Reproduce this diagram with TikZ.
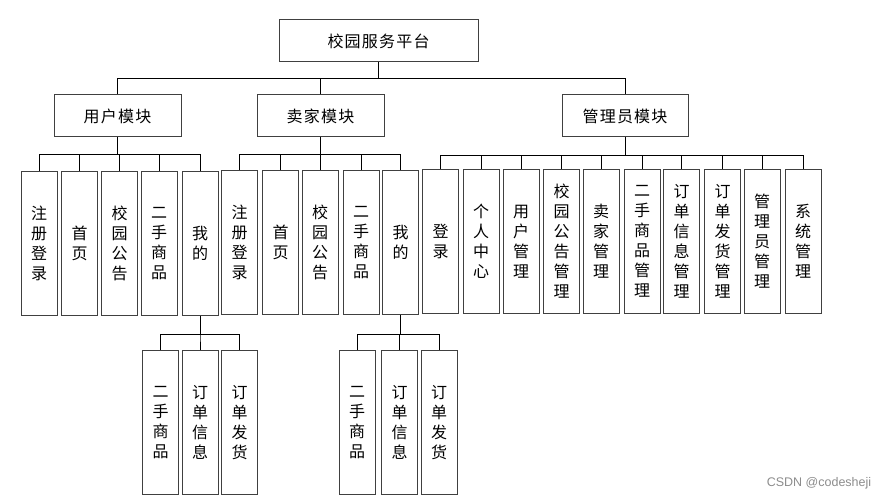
\documentclass[tikz,border=0pt]{standalone}
\usepackage{fontspec}
\newfontfamily\cjk{Noto Sans CJK SC}
\newfontfamily\wmfont{Liberation Sans}
\newcommand\cjkgap{\kern1.2pt}
\begin{document}
\begin{tikzpicture}[x=1pt,y=-1pt,
  hbox/.style={draw=black!75,line width=1pt,minimum width=127pt,minimum height=42pt,inner sep=0pt,font=\cjk\fontsize{16}{20}\selectfont},
  vbox/.style={draw=black!75,line width=1pt,minimum width=36pt,minimum height=144pt,inner sep=0pt,anchor=north,align=center,font=\cjk\fontsize{16}{20}\selectfont},
  conn/.style={draw=black,line width=0.8pt}]
\useasboundingbox (0,0) rectangle (892,500);
% level 0 and 1
\node[hbox,minimum width=199pt] (root) at (378.5,41) {校\cjkgap 园\cjkgap 服\cjkgap 务\cjkgap 平\cjkgap 台};
\node[hbox] (u) at (117.5,116) {用\cjkgap 户\cjkgap 模\cjkgap 块};
\node[hbox] (s) at (320.5,116) {卖\cjkgap 家\cjkgap 模\cjkgap 块};
\node[hbox,minimum width=126pt] (a) at (625,116) {管\cjkgap 理\cjkgap 员\cjkgap 模\cjkgap 块};
\draw[conn] (root.south) -- ++(0,17);
\draw[conn] (u.north) -- ++(0,-16) -| (a.north);
\draw[conn] (s.north) -- ++(0,-16);
% user children
\node[vbox] (u1) at (39,171) {注\\册\\登\\录};
\node[vbox] (u2) at (79.5,171) {首\\页};
\node[vbox] (u3) at (119.5,171) {校\\园\\公\\告};
\node[vbox] (u4) at (159,171) {二\\手\\商\\品};
\node[vbox] (u5) at (200,171) {我\\的};
\foreach \c in {u1,u2,u3,u4,u5} \draw[conn] (u.south) -- ++(0,17) -| (\c.north);
% seller children
\node[vbox] (s1) at (239.5,170) {注\\册\\登\\录};
\node[vbox] (s2) at (280.5,170) {首\\页};
\node[vbox] (s3) at (320,170) {校\\园\\公\\告};
\node[vbox] (s4) at (361,170) {二\\手\\商\\品};
\node[vbox] (s5) at (400.5,170) {我\\的};
\foreach \c in {s1,s2,s3,s4,s5} \draw[conn] (s.south) -- ++(0,17) -| (\c.north);
% admin children
\node[vbox] (a1) at (440.5,169) {登\\录};
\node[vbox] (a2) at (481,169) {个\\人\\中\\心};
\node[vbox] (a3) at (521,169) {用\\户\\管\\理};
\node[vbox] (a4) at (561.5,169) {校\\园\\公\\告\\管\\理};
\node[vbox] (a5) at (601,169) {卖\\家\\管\\理};
\node[vbox] (a6) at (642,169) {二\\手\\商\\品\\管\\理};
\node[vbox] (a7) at (681.5,169) {订\\单\\信\\息\\管\\理};
\node[vbox] (a8) at (722.5,169) {订\\单\\发\\货\\管\\理};
\node[vbox] (a9) at (762,169) {管\\理\\员\\管\\理};
\node[vbox] (a10) at (803,169) {系\\统\\管\\理};
\foreach \c in {a1,a2,a3,a4,a5,a6,a7,a8,a9,a10} \draw[conn] (a.south) -- ++(0,18) -| (\c.north);
% user 我的 children
\node[vbox] (um1) at (160.5,350) {二\\手\\商\\品};
\node[vbox] (um2) at (200,350) {订\\单\\信\\息};
\node[vbox] (um3) at (239.5,350) {订\\单\\发\\货};
\foreach \c in {um1,um2,um3} \draw[conn] (u5.south) -- ++(0,18) -| (\c.north);
% seller 我的 children
\node[vbox] (sm1) at (357,350) {二\\手\\商\\品};
\node[vbox] (sm2) at (399.5,350) {订\\单\\信\\息};
\node[vbox] (sm3) at (439,350) {订\\单\\发\\货};
\foreach \c in {sm1,sm2,sm3} \draw[conn] (s5.south) -- ++(0,19) -| (\c.north);
% watermark
\node[font=\wmfont\fontsize{12.5}{14}\selectfont,text=black!45] (wm) at (819,483) {CSDN @codesheji};
\end{tikzpicture}
\end{document}
